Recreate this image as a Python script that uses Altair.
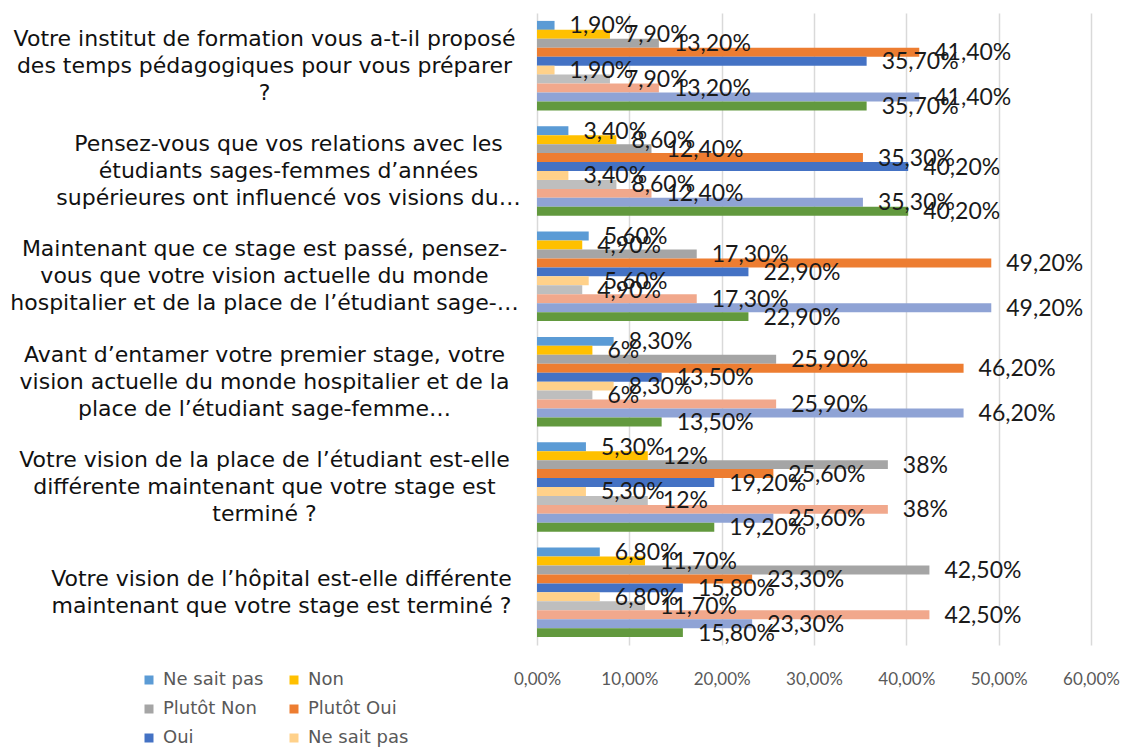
import altair as alt
import pandas as pd

# Category labels (line breaks marked by "|"), top to bottom
categories = [
    "Votre institut de formation vous a-t-il proposé|des temps pédagogiques pour vous préparer|?",
    "Pensez-vous que vos relations avec les|étudiants sages-femmes d’années|supérieures ont influencé vos visions du…",
    "Maintenant que ce stage est passé, pensez-|vous que votre vision actuelle du monde|hospitalier et de la place de l’étudiant sage-…",
    "Avant d’entamer votre premier stage, votre|vision actuelle du monde hospitalier et de la|place de l’étudiant sage-femme…",
    "Votre vision de la place de l’étudiant est-elle|différente maintenant que votre stage est|terminé ?",
    "Votre vision de l’hôpital est-elle différente|maintenant que votre stage est terminé ?",
]

# Series values (percent), one per category, top to bottom
ne_sait_pas = [1.9, 3.4, 5.6, 8.3, 5.3, 6.8]
non = [7.9, 8.6, 4.9, 6.0, 12.0, 11.7]
plutot_non = [13.2, 12.4, 17.3, 25.9, 38.0, 42.5]
plutot_oui = [41.4, 35.3, 49.2, 46.2, 25.6, 23.3]
oui = [35.7, 40.2, 22.9, 13.5, 19.2, 15.8]

series_names = ["Ne sait pas", "Non", "Plutôt Non", "Plutôt Oui", "Oui",
                "Ne sait pas", "Non", "Plutôt Non", "Plutôt Oui", "Oui"]
series_values = [ne_sait_pas, non, plutot_non, plutot_oui, oui,
                 ne_sait_pas, non, plutot_non, plutot_oui, oui]
series_colors = ["#5B9BD5", "#FFC000", "#A5A5A5", "#ED7D31", "#4472C4",
                 "#FFD18A", "#BEBEBE", "#F1A88C", "#8FA3D5", "#62993E"]
series_keys = ["s%02d" % (i + 1) for i in range(len(series_names))]

x_ticks = [0, 10, 20, 30, 40, 50, 60]


def fmt(v):
    if float(v).is_integer():
        return "%d%%" % int(v)
    return ("%.2f" % v).replace(".", ",") + "%"


rows = []
for key, name, vals in zip(series_keys, series_names, series_values):
    for cat, v in zip(categories, vals):
        rows.append({"cat": cat, "key": key, "name": name, "value": v, "label": fmt(v)})
df = pd.DataFrame(rows)

legend_expr = " : ".join(
    "datum.value == '%s' ? '%s'" % (k, n) for k, n in zip(series_keys, series_names)
) + " : datum.value"

y_enc = alt.Y(
    "cat:N",
    sort=categories,
    scale=alt.Scale(paddingInner=0.15, paddingOuter=0.075),
    axis=alt.Axis(
        title=None,
        labelExpr="split(datum.label, '|')",
        labelAlign="center",
        labelBaseline="middle",
        labelPadding={
            "condition": [
                {"test": "indexof(datum.label, 'Pensez-vous') == 0", "value": 249},
                {"test": "indexof(datum.label, 'hôpital') >= 0", "value": 256},
            ],
            "value": 273,
        },
        labelOffset={
            "condition": {"test": "length(split(datum.label, '|')) < 3", "value": -13.5},
            "value": -27,
        },
        labelLimit=1000,
        ticks=False,
        domain=False,
        labelFont="DejaVu Sans",
        labelFontSize=22,
        labelColor="#111111",
        labelLineHeight=27,
    ),
)
x_enc = alt.X(
    "value:Q",
    scale=alt.Scale(domain=[0, 60], nice=False),
    axis=alt.Axis(
        title=None,
        values=x_ticks,
        labelExpr="replace(format(datum.value, '.2f'), '.', ',') + '%'",
        labelFlush=False,
        grid=True,
        gridColor="#D9D9D9",
        gridWidth=1.5,
        domain=False,
        ticks=False,
        labelPadding=26,
        labelFont="Lato",
        labelFontSize=17,
        labelColor="#595959",
    ),
)
yoff = alt.YOffset("key:N", sort=series_keys,
                   scale=alt.Scale(domain=series_keys, paddingInner=0, paddingOuter=0))

base = alt.Chart(df).encode(x=x_enc, y=y_enc, yOffset=yoff)

bars = base.mark_bar().encode(
    color=alt.Color(
        "key:N",
        scale=alt.Scale(domain=series_keys, range=series_colors),
        legend=alt.Legend(
            title=None,
            values=series_keys[:6],
            orient="none",
            direction="horizontal",
            legendX=-397,
            legendY=658,
            columns=2,
            symbolType="square",
            symbolSize=81,
            symbolStrokeWidth=0,
            labelFont="DejaVu Sans",
            labelFontSize=18,
            labelColor="#595959",
            labelOffset=5,
            rowPadding=11,
            columnPadding=21,
            padding=0,
            labelExpr=legend_expr,
        ),
    ),
)

labels = base.mark_text(
    align="left", baseline="middle", dx=15, dy=1,
    font="Lato", fontSize=23, color="#1a1a1a",
).encode(text="label:N")

chart = alt.layer(bars, labels).properties(
    width=554,
    height=632,
    autosize=alt.AutoSizeParams(type="none"),
    padding={"left": 529, "top": 5, "right": 31, "bottom": 102},
    background="white",
).configure_view(stroke=None)

chart.save("out.html", embed_options={"renderer": "svg", "actions": False})
